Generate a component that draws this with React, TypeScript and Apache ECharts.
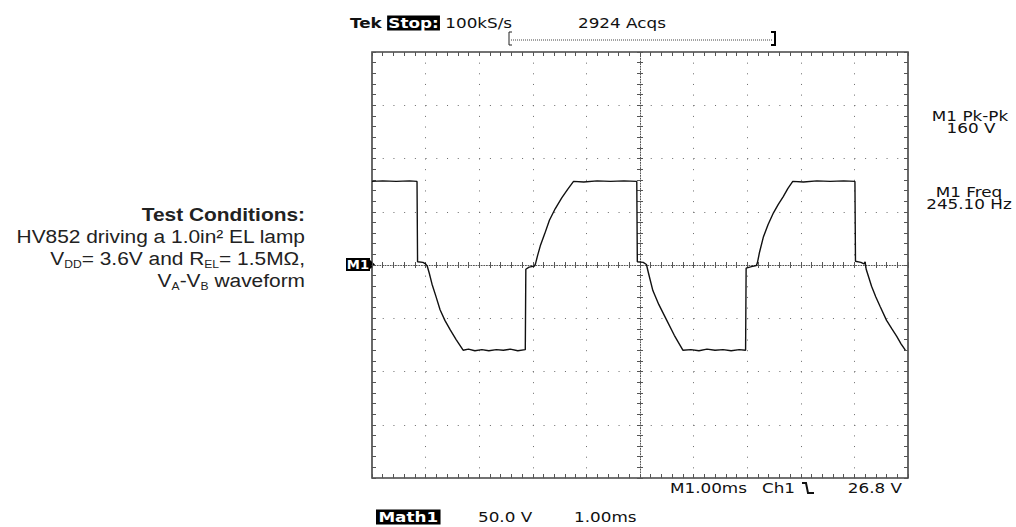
import React, { useEffect, useRef } from 'react';
import * as echarts from 'echarts';

// ---- Data ----
// time in ms from the left edge of the screen, voltage in volts (Math1 = VA - VB)
const timeMs = [
  0, 0.2, 0.45, 0.7, 0.84,
  0.85, 0.95, 1.0, 1.03, 1.07, 1.12, 1.19, 1.27, 1.36, 1.46, 1.57, 1.7,
  1.8, 1.92, 2.05, 2.18, 2.32, 2.45, 2.58, 2.72, 2.86,
  2.87, 2.93, 3.03, 3.05, 3.09, 3.14, 3.22, 3.31, 3.42, 3.54, 3.65, 3.76,
  3.95, 4.2, 4.45, 4.7, 4.94,
  4.95, 5.06, 5.12, 5.16, 5.24, 5.35, 5.5, 5.64, 5.8,
  5.95, 6.1, 6.25, 6.4, 6.55, 6.7, 6.85, 6.97,
  6.98, 7.08, 7.17, 7.19, 7.23, 7.3, 7.39, 7.49, 7.58, 7.67, 7.76, 7.85,
  8.05, 8.3, 8.55, 8.8, 9.01,
  9.02, 9.12, 9.18, 9.2, 9.22, 9.32, 9.4, 9.48, 9.6, 9.7, 9.79, 9.87, 9.95,
];
const volts = [
  78.5, 79, 78.5, 79, 78.5,
  3, 2.5, 1, -1, -8, -18, -29, -42, -52, -61, -70, -80,
  -79, -80.5, -79.5, -80.5, -79.5, -80, -79, -80.5, -79.5,
  -4, -2, -1, 1, 9, 18, 29, 42, 53, 63, 71, 78.5,
  78, 79, 78.5, 79, 78.5,
  3, 2.5, 0.5, -8, -24, -37, -52, -66, -80,
  -79.5, -80.5, -79, -80, -79.5, -80.5, -79.5, -80,
  -3, -1.5, -0.5, 2, 12, 26, 38, 49, 57, 64, 72, 78.5,
  78, 79, 78.5, 79, 78.5,
  3.5, 2.5, 1, 3, -4, -20, -30, -39, -52, -60, -67, -74, -80,
];

// axis ranges: 10 divisions of 1 ms, 8 divisions of 50 V
const xRange = [0, 10];
const xDiv = 1;
const yRange = [-200, 200];
const yDiv = 50;

// scope readouts
const headerText = ['Tek', 'Stop:', '100kS/s'];
const acqsText = '2924 Acqs';
const measureLabels = ['M1 Pk-Pk', '160 V', 'M1 Freq', '245.10 Hz'];
const bottomReadout = ['M1.00ms', 'Ch1', '26.8 V'];
const mathReadout = ['Math1', '50.0 V', '1.00ms'];
const conditionLines = [
  'Test Conditions:',
  'HV852 driving a 1.0in² EL lamp',
  '{n|V}{s|DD}{n|= 3.6V and R}{s|EL}{n|= 1.5MΩ,}',
  '{n|V}{s|A}{n|-V}{s|B}{n| waveform}',
];

const SCOPE_FONT = '"DejaVu Sans", Verdana, sans-serif';
const DOC_FONT = '"Liberation Sans", Arial, sans-serif';
const GRID_COLOR = '#6a6a6a';
const SX = 1.2;

function scopeText(text: string, x: number, y: number, align = 'left', extra: any = {}) {
  return {
    type: 'text',
    x,
    y,
    scaleX: SX,
    style: {
      text,
      fill: '#111',
      fontSize: 14,
      fontFamily: SCOPE_FONT,
      align,
      textAlign: align,
      verticalAlign: 'middle',
      textVerticalAlign: 'middle',
      ...extra,
    },
  };
}

function docText(text: string, y: number, bold = false) {
  return {
    type: 'text',
    x: 305,
    y,
    scaleX: 1.1,
    style: {
      text,
      fill: '#222',
      fontSize: 19,
      fontFamily: DOC_FONT,
      fontWeight: bold ? 'bold' : 'normal',
      align: 'right',
      textAlign: 'right',
      verticalAlign: 'middle',
      textVerticalAlign: 'middle',
      rich: {
        n: { fontSize: 19, fontFamily: DOC_FONT, fill: '#222', lineHeight: 24, verticalAlign: 'middle' },
        s: { fontSize: 11, fontFamily: DOC_FONT, fill: '#222', lineHeight: 11, verticalAlign: 'bottom' },
      },
    },
  };
}

function borderAxis(position: string, withSplit: boolean, dash: number[]) {
  return {
    type: 'value',
    position,
    axisLine: { show: false, onZero: false },
    axisTick: { show: true, inside: true, length: 4, lineStyle: { color: '#555', width: 1 } },
    minorTick: { show: true, splitNumber: 5, length: 4, lineStyle: { color: '#555', width: 1 } },
    axisLabel: { show: false },
    splitLine: { show: withSplit, lineStyle: { color: GRID_COLOR, width: 1, type: dash } },
  };
}

function centerAxis(position: string, offset: number, showLine: boolean) {
  return {
    type: 'value',
    position,
    offset,
    axisLine: { show: showLine, onZero: false, lineStyle: { color: '#555', width: 1, type: [1, 1.6] } },
    axisTick: { show: true, inside: true, length: 3, lineStyle: { color: '#555', width: 1 } },
    minorTick: { show: true, splitNumber: 5, length: 3, lineStyle: { color: '#555', width: 1 } },
    axisLabel: { show: false },
    splitLine: { show: false },
  };
}

const GRID = { left: 372, top: 52, width: 536, height: 426 };

function buildOption() {
  const xBase = { min: xRange[0], max: xRange[1], interval: xDiv };
  const yBase = { min: yRange[0], max: yRange[1], interval: yDiv };
  const xAxes = [
    { ...borderAxis('bottom', true, [1, 9.65]), ...xBase },
    { ...borderAxis('top', false, [1, 9.65]), ...xBase },
    { ...centerAxis('bottom', -GRID.height / 2, true), ...xBase },
    { ...centerAxis('top', -GRID.height / 2, false), ...xBase },
  ];
  const yAxes = [
    { ...borderAxis('left', true, [1, 9.72]), ...yBase },
    { ...borderAxis('right', false, [1, 9.72]), ...yBase },
    { ...centerAxis('left', -GRID.width / 2, true), ...yBase },
    { ...centerAxis('right', -GRID.width / 2, false), ...yBase },
  ];

  const graphic: any[] = [
    // header row
    {
      type: 'text',
      x: 350,
      y: 23,
      scaleX: SX,
      style: {
        text: `{b|${headerText[0]}} {inv|${headerText[1]}} ${headerText[2]}`,
        fill: '#111',
        fontSize: 14,
        fontFamily: SCOPE_FONT,
        align: 'left',
        textAlign: 'left',
        verticalAlign: 'middle',
        textVerticalAlign: 'middle',
        rich: {
          b: { fontSize: 14, fontFamily: SCOPE_FONT, fontWeight: 'bold', fill: '#111' },
          inv: {
            fontSize: 14,
            fontFamily: SCOPE_FONT,
            fontWeight: 'bold',
            fill: '#fff',
            backgroundColor: '#000',
            padding: [1, 1, 0, 1],
          },
        },
      },
    },
    scopeText(acqsText, 578, 23),
    // record bracket
    {
      type: 'polyline',
      shape: { points: [[512, 32], [509, 32], [509, 45], [512, 45]] },
      style: { stroke: '#222', lineWidth: 1, fill: 'none' },
    },
    {
      type: 'line',
      shape: { x1: 511, y1: 40, x2: 773, y2: 40 },
      style: { stroke: '#444', lineWidth: 1, lineDash: [1, 1] },
    },
    {
      type: 'polyline',
      shape: { points: [[771, 32], [775, 32], [775, 45], [771, 45]] },
      style: { stroke: '#000', lineWidth: 2, fill: 'none' },
    },
    // measurements
    scopeText(measureLabels[0], 970, 116, 'center'),
    scopeText(measureLabels[1], 971, 128, 'center'),
    scopeText(measureLabels[2], 969, 192, 'center'),
    scopeText(measureLabels[3], 969, 204, 'center'),
    // bottom readout
    scopeText(bottomReadout[0], 670, 488),
    scopeText(bottomReadout[1], 762, 488),
    {
      type: 'polyline',
      shape: { points: [[802, 483], [806, 483], [808, 493], [814, 493]] },
      style: { stroke: '#111', lineWidth: 2, fill: 'none' },
    },
    scopeText(bottomReadout[2], 902, 488, 'right'),
    // math readout
    scopeText(mathReadout[0], 376, 517, 'left', {
      fill: '#fff',
      backgroundColor: '#000',
      fontWeight: 'bold',
      padding: [1, 2, 0, 2],
    }),
    scopeText(mathReadout[1], 478, 517),
    scopeText(mathReadout[2], 574, 517),
    // M1 ground marker
    {
      type: 'rect',
      shape: { x: 346, y: 258, width: 24, height: 13 },
      style: { fill: '#000' },
    },
    {
      type: 'text',
      x: 358,
      y: 264.5,
      scaleX: 1.1,
      style: {
        text: 'M1',
        fill: '#fff',
        fontSize: 12,
        fontWeight: 'bold',
        fontFamily: SCOPE_FONT,
        align: 'center',
        textAlign: 'center',
        verticalAlign: 'middle',
        textVerticalAlign: 'middle',
      },
    },
    {
      type: 'polygon',
      shape: { points: [[370, 260], [375, 264.5], [370, 269]] },
      style: { fill: '#000' },
    },
    // test condition notes
    docText(conditionLines[0], 214, true),
    docText(conditionLines[1], 236),
    docText(conditionLines[2], 258),
    docText(conditionLines[3], 280),
  ];

  return {
    animation: false,
    backgroundColor: '#fff',
    grid: {
      ...GRID,
      show: true,
      borderColor: '#444',
      borderWidth: 1.6,
      backgroundColor: 'transparent',
      containLabel: false,
    },
    xAxis: xAxes,
    yAxis: yAxes,
    series: [
      {
        type: 'line',
        xAxisIndex: 0,
        yAxisIndex: 0,
        data: timeMs.map((t, i) => [t, volts[i]]),
        showSymbol: false,
        symbol: 'none',
        lineStyle: { color: '#111', width: 1.4 },
        clip: true,
        z: 5,
      },
    ],
    graphic,
  };
}

export default function App() {
  const ref = useRef<HTMLDivElement>(null);
  useEffect(() => {
    if (!ref.current) return;
    const chart = echarts.init(ref.current, null, { renderer: 'svg' });
    chart.setOption(buildOption() as any);
    return () => {
      chart.dispose();
    };
  }, []);
  return (
    <div
      ref={ref}
      style={{ position: 'fixed', left: 0, top: 0, width: 1016, height: 527, background: '#fff' }}
    />
  );
}
